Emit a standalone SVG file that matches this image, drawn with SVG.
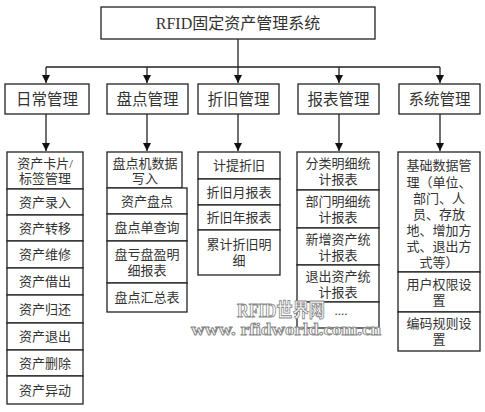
<svg xmlns="http://www.w3.org/2000/svg" width="485" height="412" viewBox="0 0 485 412">
<defs>
<marker id="arr" viewBox="0 0 8 8" refX="8" refY="4" markerWidth="8" markerHeight="8" markerUnits="userSpaceOnUse" orient="auto">
<path d="M0,0 L8,4 L0,8 z" fill="#111"/>
</marker>
<style>
rect{fill:#fff;stroke:#222;stroke-width:1.3}
text{font-family:"Liberation Serif","Noto Sans CJK SC",serif;fill:#333;text-anchor:middle;dominant-baseline:central}
.t{font-size:16px}
.m{font-size:15.5px}
.c{font-size:13px}
.con{stroke:#222;stroke-width:1.3;fill:none}
.wm{fill:#fff;stroke:#888;stroke-width:0.9;font-family:"Liberation Serif","Noto Sans CJK SC",serif;font-weight:bold}
</style>
</defs>
<rect width="485" height="412" style="fill:#fff;stroke:none"/>
<g id="connectors">
<path class="con" d="M238,39 V67 M46,67 H440"/>
<path class="con" d="M46,67 V83" marker-end="url(#arr)"/>
<path class="con" d="M147,67 V83" marker-end="url(#arr)"/>
<path class="con" d="M238,67 V83" marker-end="url(#arr)"/>
<path class="con" d="M339,67 V83" marker-end="url(#arr)"/>
<path class="con" d="M440,67 V83" marker-end="url(#arr)"/>
<path class="con" d="M46,114 V151" marker-end="url(#arr)"/>
<path class="con" d="M147,114 V151" marker-end="url(#arr)"/>
<path class="con" d="M238,114 V151" marker-end="url(#arr)"/>
<path class="con" d="M339,114 V151" marker-end="url(#arr)"/>
<path class="con" d="M440,114 V151" marker-end="url(#arr)"/>
</g>
<g id="root"><rect x="101" y="7" width="274" height="32"/><text class="t" x="238" y="23">RFID固定资产管理系统</text></g>
<g id="n1"><rect x="5" y="84" width="84" height="30"/><text class="m" x="47" y="99">日常管理</text></g>
<g id="n2"><rect x="107" y="84" width="81" height="30"/><text class="m" x="147.5" y="99">盘点管理</text></g>
<g id="n3"><rect x="198" y="84" width="81" height="30"/><text class="m" x="238.5" y="99">折旧管理</text></g>
<g id="n4"><rect x="298" y="84" width="81" height="30"/><text class="m" x="338.5" y="99">报表管理</text></g>
<g id="n5"><rect x="399" y="84" width="81" height="30"/><text class="m" x="439.5" y="99">系统管理</text></g>

<g id="col1">
<rect x="7" y="152" width="76" height="37"/><text class="c" x="45" y="163">资产卡片/</text><text class="c" x="45" y="178">标签管理</text>
<rect x="7" y="189" width="76" height="26"/><text class="c" x="45" y="202">资产录入</text>
<rect x="7" y="215" width="76" height="26"/><text class="c" x="45" y="228">资产转移</text>
<rect x="7" y="241" width="76" height="27"/><text class="c" x="45" y="254.5">资产维修</text>
<rect x="7" y="268" width="76" height="27"/><text class="c" x="45" y="281.5">资产借出</text>
<rect x="7" y="295" width="76" height="28"/><text class="c" x="45" y="309">资产归还</text>
<rect x="7" y="323" width="76" height="27"/><text class="c" x="45" y="336.5">资产退出</text>
<rect x="7" y="350" width="76" height="26"/><text class="c" x="45" y="363">资产删除</text>
<rect x="7" y="376" width="76" height="28"/><text class="c" x="45" y="390">资产异动</text>
</g>

<g id="col2">
<rect x="107" y="152" width="75" height="36"/><text class="c" x="145" y="163">盘点机数据</text><text class="c" x="145" y="178">写入</text>
<rect x="107" y="188" width="80" height="26"/><text class="c" x="147" y="201">资产盘点</text>
<rect x="107" y="214" width="80" height="27"/><text class="c" x="147" y="227.5">盘点单查询</text>
<rect x="107" y="241" width="80" height="42"/><text class="c" x="147" y="254">盘亏盘盈明</text><text class="c" x="147" y="270">细报表</text>
<rect x="107" y="283" width="80" height="29"/><text class="c" x="147" y="297.5">盘点汇总表</text>
</g>

<g id="col3">
<rect x="198" y="152" width="82" height="27"/><text class="c" x="239" y="165.5">计提折旧</text>
<rect x="198" y="179" width="82" height="26"/><text class="c" x="239" y="192">折旧月报表</text>
<rect x="198" y="205" width="82" height="25"/><text class="c" x="239" y="217.5">折旧年报表</text>
<rect x="198" y="230" width="82" height="45"/><text class="c" x="239" y="244">累计折旧明</text><text class="c" x="239" y="260">细</text>
</g>

<g id="col4">
<rect x="297" y="152" width="82" height="38"/><text class="c" x="338" y="163">分类明细统</text><text class="c" x="338" y="179">计报表</text>
<rect x="297" y="190" width="82" height="38"/><text class="c" x="338" y="201">部门明细统</text><text class="c" x="338" y="217">计报表</text>
<rect x="297" y="228" width="82" height="37"/><text class="c" x="338" y="239">新增资产统</text><text class="c" x="338" y="255">计报表</text>
<rect x="297" y="265" width="82" height="37"/><text class="c" x="338" y="276">退出资产统</text><text class="c" x="338" y="292">计报表</text>
<rect x="297" y="302" width="82" height="26"/><text class="c" x="341" y="310">....</text>
</g>

<g id="col5">
<rect x="398" y="152" width="82" height="120"/>
<text class="c" x="439" y="165">基础数据管</text>
<text class="c" x="439" y="182">理（单位、</text>
<text class="c" x="439" y="198">部门、人</text>
<text class="c" x="439" y="214">员、存放</text>
<text class="c" x="439" y="230">地、增加方</text>
<text class="c" x="439" y="246">式、退出方</text>
<text class="c" x="439" y="262">式等）</text>
<rect x="398" y="272" width="82" height="40"/><text class="c" x="439" y="284">用户权限设</text><text class="c" x="439" y="300">置</text>
<rect x="398" y="312" width="82" height="39"/><text class="c" x="439" y="323">编码规则设</text><text class="c" x="439" y="339">置</text>
</g>

<g id="watermark">
<text class="wm" x="281" y="310" font-size="19" textLength="88" lengthAdjust="spacingAndGlyphs">RFID世界网</text>
<text class="wm" x="286" y="329" font-size="17" textLength="190" lengthAdjust="spacingAndGlyphs">www. rfidworld.com.cn</text>
</g>
</svg>
